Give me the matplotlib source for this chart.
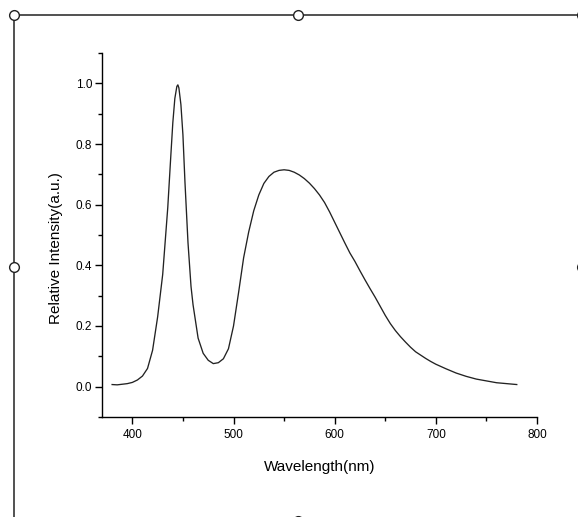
import matplotlib
matplotlib.use("Agg")
import matplotlib.pyplot as plt
from matplotlib.ticker import MultipleLocator

plt.rcParams["font.family"] = ["Liberation Sans", "DejaVu Sans"]

# ── Spectrum ──────────────────────────────────────────────────────────
wavelength = [380, 385, 390, 395, 400, 405, 410, 415, 420, 425, 430, 435,
              438, 440, 442, 444, 445, 446, 448, 450, 452, 455, 458, 460,
              465, 470, 475, 480, 485, 490, 495, 500, 505, 510, 515, 520,
              525, 530, 535, 540, 545, 550, 555, 560, 565, 570, 575, 580,
              585, 590, 595, 600, 605, 610, 615, 620, 625, 630, 635, 640,
              645, 650, 655, 660, 665, 670, 675, 680, 685, 690, 695, 700,
              710, 720, 730, 740, 750, 760, 770, 780]
intensity = [0.007, 0.006, 0.008, 0.010, 0.014, 0.022, 0.035, 0.060, 0.12,
             0.23, 0.37, 0.59, 0.76, 0.87, 0.95, 0.99, 0.995, 0.985, 0.93,
             0.83, 0.675, 0.475, 0.33, 0.27, 0.16, 0.11, 0.087, 0.076,
             0.079, 0.092, 0.125, 0.20, 0.31, 0.425, 0.51, 0.58, 0.632,
             0.670, 0.693, 0.707, 0.713, 0.715, 0.713, 0.707, 0.698, 0.686,
             0.671, 0.653, 0.632, 0.607, 0.576, 0.542, 0.508, 0.474, 0.441,
             0.413, 0.382, 0.352, 0.323, 0.295, 0.265, 0.235, 0.208, 0.185,
             0.165, 0.147, 0.130, 0.115, 0.104, 0.093, 0.083, 0.074, 0.059,
             0.045, 0.034, 0.025, 0.019, 0.013, 0.010, 0.007]

W, H = 578, 517
fig = plt.figure(figsize=(W / 100, H / 100), dpi=100)

# ── Main plot ─────────────────────────────────────────────────────────
ax = fig.add_axes([102 / W, 1 - 417 / H, (537 - 102) / W, (417 - 53) / H])
ax.plot(wavelength, intensity, color="#222222", linewidth=0.95)

ax.set_xlim(370, 800)
ax.set_ylim(-0.1, 1.1)
ax.xaxis.set_major_locator(MultipleLocator(100))
ax.xaxis.set_minor_locator(MultipleLocator(50))
ax.yaxis.set_minor_locator(MultipleLocator(0.1))
ax.set_yticks([0.0, 0.2, 0.4, 0.6, 0.8, 1.0])
ax.set_yticklabels(["0.0", "0.2", "0.4", "0.6", "0.8", "1.0"])

for side in ("top", "right"):
    ax.spines[side].set_visible(False)
for side in ("left", "bottom"):
    ax.spines[side].set_linewidth(1.0)
    ax.spines[side].set_color("black")

ax.tick_params(which="major", direction="out", length=5, width=1.0,
               labelsize=8.5, colors="black")
ax.tick_params(which="minor", direction="out", length=3, width=1.0)
ax.tick_params(axis="x", which="major", pad=4)
ax.tick_params(axis="y", which="major", pad=2)

ax.set_xlabel("Wavelength(nm)", fontsize=11)
ax.set_ylabel("Relative Intensity(a.u.)", fontsize=11)
ax.xaxis.set_label_coords((320 - 102) / (537 - 102), -(460 - 417) / (417 - 53))
ax.yaxis.set_label_coords(-(102 - 63) / (537 - 102), (417 - 248) / (417 - 53))

# ── Selection frame with handles (as in the source screenshot) ────────
ov = fig.add_axes([0, 0, 1, 1], zorder=5)
ov.set_xlim(0, W)
ov.set_ylim(H, 0)
ov.axis("off")
ov.patch.set_alpha(0)
ov.plot([14, W + 5], [15, 15], color="#222222", linewidth=1.1)
ov.plot([14, 14], [15, H + 5], color="#222222", linewidth=1.1)
ov.plot([14, 298, 14, 298, 582, 582], [15, 15, 267, 521, 15, 267],
        linestyle="none", marker="o", markersize=7, markerfacecolor="white",
        markeredgecolor="#222222", markeredgewidth=1.0, clip_on=False)

fig.savefig("out.png", dpi=100)
